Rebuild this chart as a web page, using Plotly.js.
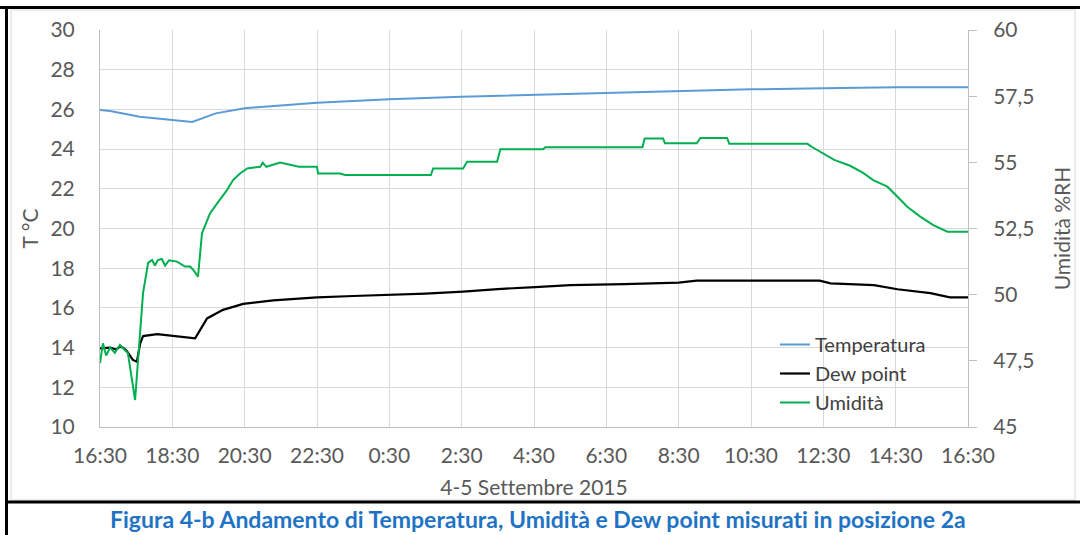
<!DOCTYPE html>
<html>
<head>
<meta charset="utf-8">
<script src="https://cdn.plot.ly/plotly-3.0.1.min.js"></script>
<style>
html,body{margin:0;padding:0;background:#fff;}
#chart{width:1080px;height:535px;}
svg text{font-variant-ligatures:none;font-feature-settings:"liga" 0;}
</style>
</head>
<body>
<div id="chart"></div>
<script>
// Hours elapsed since 4 Sept 2015 16:30
const xTickVals = [0,2,4,6,8,10,12,14,16,18,20,22,24];
const xTickText = ["16:30","18:30","20:30","22:30","0:30","2:30","4:30","6:30","8:30","10:30","12:30","14:30","16:30"];
const rhTickVals = [45,47.5,50,52.5,55,57.5,60];
const rhTickText = ["45","47,5","50","52,5","55","57,5","60"];

const tempHours = [0,0.28,1.1,2.0,2.55,3.2,4.0,6.0,8.0,10.0,12.0,14.0,16.0,18.0,20.0,22.0,24.0];
const tempVals  = [25.97,25.92,25.63,25.47,25.37,25.8,26.06,26.34,26.51,26.64,26.74,26.81,26.94,27.01,27.06,27.11,27.11];

const dewHours = [0,0.28,0.45,0.55,0.64,0.75,0.91,1.02,1.11,1.19,1.58,2.02,2.49,2.63,2.77,2.96,3.4,3.96,4.79,6.0,7.0,8.0,9.0,10.04,11.0,12.03,13.0,14.5,16.0,16.5,18.0,19.9,20.2,21.4,22.05,22.96,23.5,24.0];
const dewVals  = [13.96,14.0,13.9,14.05,14.0,13.8,13.38,13.29,14.2,14.58,14.68,14.58,14.47,14.47,14.89,15.47,15.9,16.2,16.38,16.53,16.6,16.65,16.72,16.82,16.95,17.05,17.15,17.2,17.27,17.37,17.37,17.37,17.24,17.15,16.94,16.74,16.53,16.53];

const rhHours = [0,0.08,0.17,0.28,0.41,0.55,0.69,0.77,0.97,1.11,1.19,1.33,1.44,1.52,1.6,1.71,1.8,1.91,2.13,2.35,2.49,2.57,2.71,2.82,3.04,3.24,3.51,3.68,3.87,4.07,4.43,4.5,4.6,4.98,5.5,6.0,6.03,6.64,6.78,8.3,9.15,9.21,10.04,10.15,10.98,11.07,12.25,12.31,15.0,15.06,15.57,15.62,16.5,16.6,17.34,17.4,19.56,19.7,20.0,20.3,20.74,21.1,21.38,21.77,22.05,22.32,22.68,23.04,23.43,23.6,24.0];
const rhVals  = [47.41,48.16,47.7,48.0,47.8,48.1,47.9,47.8,46.02,48.55,50.06,51.2,51.31,51.1,51.31,51.35,51.1,51.3,51.25,51.06,51.06,50.95,50.68,52.32,53.07,53.45,53.95,54.33,54.58,54.77,54.83,54.99,54.83,54.99,54.83,54.83,54.58,54.58,54.52,54.52,54.52,54.77,54.77,55.02,55.02,55.49,55.49,55.57,55.57,55.9,55.9,55.72,55.72,55.92,55.92,55.7,55.7,55.57,55.34,55.09,54.87,54.6,54.33,54.08,53.7,53.32,52.95,52.63,52.38,52.38,52.38];

const FONT = "Lato, 'Open Sans', sans-serif";
const GREY = "#595959";
const FS = 21;

const traces = [
  {x: tempHours, y: tempVals, name: "Temperatura", type: "scatter", mode: "lines",
   line: {color: "#5B9BD5", width: 2}, yaxis: "y"},
  {x: dewHours, y: dewVals, name: "Dew point", type: "scatter", mode: "lines",
   line: {color: "#000000", width: 2.2}, yaxis: "y"},
  {x: rhHours, y: rhVals, name: "Umidità", type: "scatter", mode: "lines",
   line: {color: "#00B050", width: 2}, yaxis: "y2"}
];

// paper coords helpers (plot area 100..968 x, 30..427 y)
const L = 100, R = 968, T = 30, B = 427;
const px = v => (v - L) / (R - L);
const py = v => (B - v) / (B - T);

const layout = {
  width: 1080, height: 535,
  margin: {l: L, r: 1080 - R, t: T, b: 535 - B, pad: 0},
  paper_bgcolor: "#ffffff", plot_bgcolor: "#ffffff",
  font: {family: FONT, size: FS, color: GREY},
  showlegend: true,
  legend: {x: px(775), y: py(325), xanchor: "left", yanchor: "top",
           bgcolor: "rgba(255,255,255,0)", font: {family: FONT, size: 20, color: "#404040"},
           tracegroupgap: 0},
  xaxis: {range: [0, 24], tickmode: "array", tickvals: xTickVals, ticktext: xTickText,
          showgrid: true, gridcolor: "#D9D9D9", gridwidth: 1, zeroline: false,
          showline: true, linecolor: "#BFBFBF", linewidth: 1, ticks: "",
          ticklabelstandoff: 10,
          tickfont: {family: FONT, size: FS, color: GREY},
          title: {text: "4-5 Settembre 2015", font: {family: FONT, size: FS, color: GREY}, standoff: 14}},
  yaxis: {range: [10, 30], dtick: 2, tick0: 10, showgrid: true, gridcolor: "#D9D9D9", gridwidth: 1,
          zeroline: false, showline: true, linecolor: "#BFBFBF", linewidth: 1, ticks: "",
          ticklabelstandoff: 20,
          tickfont: {family: FONT, size: FS, color: GREY},
          title: {text: "T °C", font: {family: FONT, size: FS, color: GREY}, standoff: 6}},
  yaxis2: {range: [45, 60], overlaying: "y", side: "right", tickmode: "array",
           tickvals: rhTickVals, ticktext: rhTickText, showgrid: false, zeroline: false,
           showline: true, linecolor: "#BFBFBF", linewidth: 1, ticks: "outside", ticklen: 8,
           tickcolor: "#BFBFBF", ticklabelstandoff: 12,
           tickfont: {family: FONT, size: FS, color: GREY},
           title: {text: "Umidità %RH", font: {family: FONT, size: FS, color: GREY}, standoff: 21}},
  shapes: [
    {type: "rect", xref: "paper", yref: "paper", x0: px(11), x1: px(1075), y0: py(500), y1: py(10),
     line: {color: "#D9D9D9", width: 1}, fillcolor: "rgba(0,0,0,0)", layer: "below"},
    {type: "line", xref: "paper", yref: "paper", x0: px(0), x1: px(1080), y0: py(7.5), y1: py(7.5),
     line: {color: "#000000", width: 3}},
    {type: "line", xref: "paper", yref: "paper", x0: px(6.5), x1: px(6.5), y0: py(7.5), y1: py(540),
     line: {color: "#000000", width: 3}},
    {type: "line", xref: "paper", yref: "paper", x0: px(6.5), x1: px(1080), y0: py(502), y1: py(502),
     line: {color: "#000000", width: 3}}
  ],
  annotations: [
    {text: "<b>Figura 4-b Andamento di Temperatura, Umidità e Dew point misurati in posizione 2a</b>",
     xref: "paper", yref: "paper", x: px(538), y: py(519), xanchor: "center", yanchor: "middle",
     showarrow: false, font: {family: FONT, size: 23, color: "#1F73C4"}}
  ]
};

Plotly.newPlot("chart", traces, layout, {displayModeBar: false, staticPlot: true});
</script>
</body>
</html>
